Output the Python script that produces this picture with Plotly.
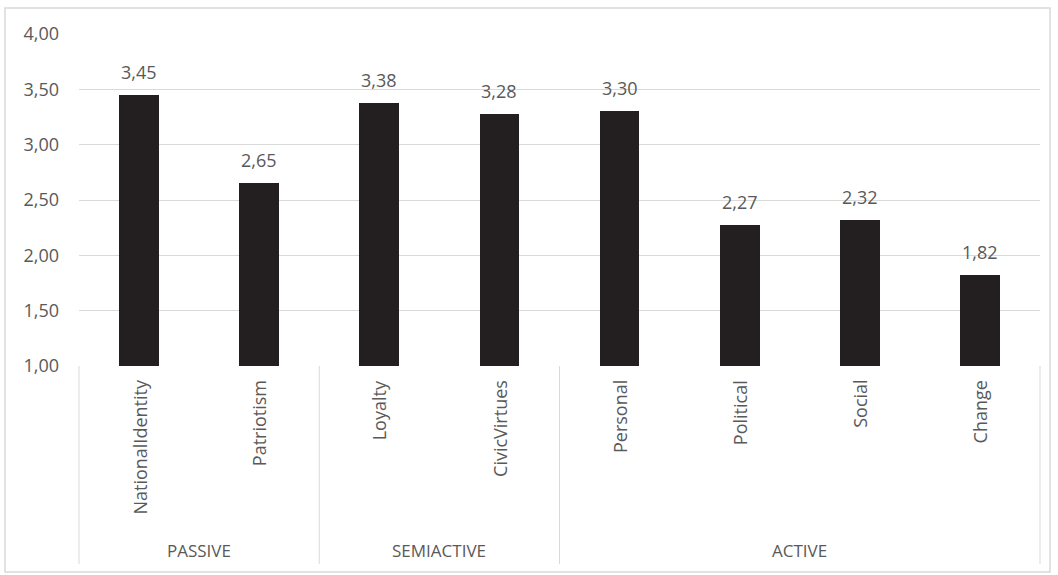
import plotly.graph_objects as go

categories = ["NationalIdentity", "Patriotism", "Loyalty", "CivicVirtues",
              "Personal", "Political", "Social", "Change"]
values = [3.45, 2.65, 3.38, 3.28, 3.30, 2.27, 2.32, 1.82]
groups = ["PASSIVE", "SEMIACTIVE", "ACTIVE"]
group_sizes = [2, 2, 4]
y_ticks = [1.0, 1.5, 2.0, 2.5, 3.0, 3.5, 4.0]

W, H = 1058, 575
L, R, T, B = 79, 18, 34, 209
pw, ph = W - L - R, H - T - B

TEXT = "#595959"
FONT = "'Open Sans', sans-serif"
FS = 18
xs = list(range(len(categories)))

fig = go.Figure()
fig.add_trace(go.Bar(
    x=xs, y=values, base=0, width=0.33,
    marker=dict(color="#231f20", line=dict(width=0)),
    cliponaxis=False, hoverinfo="skip",
))

ann = []
for x, v in zip(xs, values):
    ann.append(dict(x=x, y=v, xref="x", yref="y", text=f"{v:.2f}".replace(".", ","),
                    showarrow=False, yanchor="bottom", yshift=9,
                    font=dict(size=FS, color=TEXT, family=FONT)))
for x, c in zip(xs, categories):
    ann.append(dict(x=x, y=0, xref="x", yref="paper", text=c, textangle=-90,
                    showarrow=False, yanchor="top", xanchor="center", yshift=-12,
                    font=dict(size=FS, color=TEXT, family=FONT)))

n = len(categories)
shapes = []
start = 0
bottom = -(564 - (T + ph)) / ph
shapes.append(dict(type="line", xref="paper", yref="paper", x0=0, x1=0, y0=0, y1=bottom,
                   line=dict(color="#d9d9d9", width=1)))
for g, s in zip(groups, group_sizes):
    end = start + s
    xe = end / n
    shapes.append(dict(type="line", xref="paper", yref="paper", x0=xe, x1=xe, y0=0, y1=bottom,
                       line=dict(color="#d9d9d9", width=1)))
    ann.append(dict(x=(start + end) / 2 / n, y=1 - (550 - T) / ph, xref="paper", yref="paper",
                    text=g, showarrow=False, yanchor="middle", xanchor="center",
                    font=dict(size=17, color=TEXT, family=FONT)))
    start = end

# chart outer border
shapes.append(dict(type="rect", xref="paper", yref="paper",
                   x0=(5 - L) / pw, x1=(1050 - L) / pw,
                   y0=1 - (572 - T) / ph, y1=1 + (T - 8) / ph,
                   line=dict(color="#d9d9d9", width=1.5), fillcolor="rgba(0,0,0,0)", layer="below"))

fig.update_layout(
    width=W, height=H,
    margin=dict(l=L, r=R, t=T, b=B, pad=0),
    paper_bgcolor="white", plot_bgcolor="white",
    separators=",.",
    showlegend=False,
    bargap=0,
    font=dict(family=FONT, color=TEXT, size=FS),
    xaxis=dict(range=[-0.5, n - 0.5], showticklabels=False, showgrid=False,
               zeroline=False, showline=False, ticks=""),
    yaxis=dict(range=[1, 4], tickvals=y_ticks, tickformat=".2f",
               showgrid=True, gridcolor="#d9d9d9", gridwidth=1, zeroline=False,
               showline=False, ticks="", ticklabelstandoff=19,
               tickfont=dict(size=FS, color=TEXT, family=FONT)),
    annotations=ann, shapes=shapes,
)

fig.write_html("out.html")
